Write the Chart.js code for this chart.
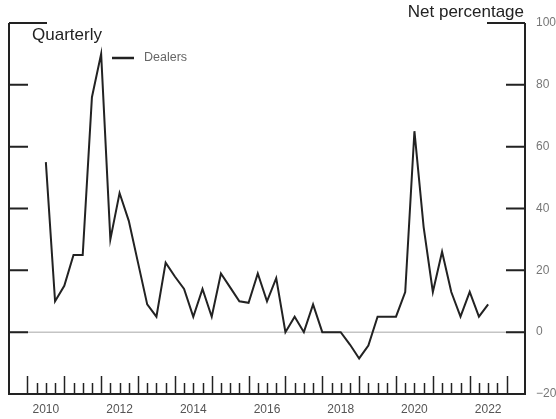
<!DOCTYPE html>
<html>
<head>
<meta charset="utf-8">
<script src="https://cdn.jsdelivr.net/npm/chart.js@4/dist/chart.umd.min.js"></script>
<style>
  body { margin: 0; background: #fff; }
</style>
</head>
<body>
<canvas id="dealers-chart" width="556" height="419"></canvas>
<script>
// survey quarters (plotted at end of quarter)
var quarters = [
  '2010Q2', '2010Q3', '2010Q4',
  '2011Q1', '2011Q2', '2011Q3', '2011Q4',
  '2012Q1', '2012Q2', '2012Q3', '2012Q4',
  '2013Q1', '2013Q2', '2013Q3', '2013Q4',
  '2014Q1', '2014Q2', '2014Q3', '2014Q4',
  '2015Q1', '2015Q2', '2015Q3', '2015Q4',
  '2016Q1', '2016Q2', '2016Q3', '2016Q4',
  '2017Q1', '2017Q2', '2017Q3', '2017Q4',
  '2018Q1', '2018Q2', '2018Q3', '2018Q4',
  '2019Q1', '2019Q2', '2019Q3', '2019Q4',
  '2020Q1', '2020Q2', '2020Q3', '2020Q4',
  '2021Q1', '2021Q2', '2021Q3', '2021Q4',
  '2022Q1', '2022Q2'
];
var dealers = [
  55, 10, 15,
  25, 25, 76, 90,
  30, 45, 36, 22.5,
  9, 5, 22.5, 18,
  14, 5, 14, 5,
  19, 14.5, 10, 9.5,
  19, 10, 17.5, 0,
  5, 0, 9, 0,
  0, 0, -4, -8.5,
  -4.3, 5, 5, 5,
  13, 65, 34, 13,
  26, 13, 5, 13,
  5, 9
];
var yearLabels = ['2010', '2012', '2014', '2016', '2018', '2020', '2022'];
var yTicks = [-20, 0, 20, 40, 60, 80, 100];

function quarterToX(q) {
  return parseInt(q.slice(0, 4)) + parseInt(q.slice(5)) * 0.25;
}

const frame = {
  id: 'frame',
  beforeDatasetsDraw(chart) {
    const c = chart.ctx, a = chart.chartArea, y = chart.scales.y;
    c.save();
    c.strokeStyle = '#c4c4c4';
    c.lineWidth = 1.5;
    c.beginPath();
    c.moveTo(a.left, y.getPixelForValue(0));
    c.lineTo(a.right, y.getPixelForValue(0));
    c.stroke();
    c.restore();
  },
  afterDatasetsDraw(chart) {
    const c = chart.ctx, a = chart.chartArea;
    const x = chart.scales.x, y = chart.scales.y;
    c.save();
    c.strokeStyle = '#222';
    c.lineWidth = 2;
    c.beginPath();
    c.moveTo(a.left, a.top);
    c.lineTo(a.left, a.bottom);
    c.lineTo(a.right, a.bottom);
    c.lineTo(a.right, a.top);
    c.stroke();

    // y ticks, pointing inward from both sides
    yTicks.forEach(function (v) {
      const py = y.getPixelForValue(v);
      const len = v === 100 ? 38 : 19;
      c.beginPath();
      c.moveTo(a.left, py); c.lineTo(a.left + len, py);
      c.moveTo(a.right, py); c.lineTo(a.right - len, py);
      c.stroke();
    });

    // quarterly ticks along the bottom, taller at year starts
    c.lineWidth = 1.5;
    for (let yr = 2010; yr <= 2023; yr++) {
      for (let q = 0; q < 4; q++) {
        if (yr === 2023 && q > 0) break;
        const px = Math.round(x.getPixelForValue(yr + q * 0.25)) + 0.5;
        c.beginPath();
        c.moveTo(px, a.bottom);
        c.lineTo(px, a.bottom - (q === 0 ? 18 : 11));
        c.stroke();
      }
    }

    // texts
    c.fillStyle = '#222';
    c.font = '17px "Liberation Sans", Arial, sans-serif';
    c.textBaseline = 'middle';
    c.textAlign = 'left';
    c.fillText('Quarterly', 32, 35);
    c.textAlign = 'right';
    c.fillText('Net percentage', 524, 12);

    // legend
    c.strokeStyle = '#222';
    c.lineWidth = 2.5;
    c.beginPath();
    c.moveTo(112, 58); c.lineTo(134, 58);
    c.stroke();
    c.fillStyle = '#666';
    c.font = '12.5px "Liberation Sans", Arial, sans-serif';
    c.textAlign = 'left';
    c.fillText('Dealers', 144, 58);
    c.restore();
  }
};

const ctx = document.getElementById('dealers-chart');
const dealersChart = new Chart(ctx, {
  type: 'line',
  data: {
    datasets: [{
      label: 'Dealers',
      data: quarters.map(function (q, i) { return { x: quarterToX(q), y: dealers[i] }; }),
      borderColor: '#222',
      borderWidth: 2,
      pointRadius: 0,
      tension: 0,
      fill: false
    }]
  },
  options: {
    responsive: false,
    animation: false,
    layout: { padding: { left: 9, top: 23, right: 0, bottom: 0 } },
    plugins: { legend: { display: false }, tooltip: { enabled: false } },
    scales: {
      x: {
        type: 'linear',
        min: 2009.5,
        max: 2023.5,
        afterBuildTicks: function (scale) {
          scale.ticks = yearLabels.map(function (l) { return { value: parseInt(l) + 0.5 }; });
        },
        afterFit: function (scale) { scale.height = 25; },
        grid: { display: false, drawTicks: false },
        border: { display: false },
        ticks: {
          autoSkip: false,
          maxRotation: 0,
          padding: 8,
          color: '#555',
          font: { family: '"Liberation Sans", Arial, sans-serif', size: 12 },
          callback: function (v) { return String(Math.floor(v)); }
        }
      },
      y: {
        position: 'right',
        min: -20,
        max: 100,
        afterBuildTicks: function (scale) {
          scale.ticks = yTicks.map(function (v) { return { value: v }; });
        },
        afterFit: function (scale) { scale.width = 31; },
        grid: { display: false, drawTicks: false },
        border: { display: false },
        ticks: {
          padding: 11,
          color: '#777',
          font: { family: '"Liberation Sans", Arial, sans-serif', size: 12 },
          callback: function (v) { return String(v).replace('-', '\u2212'); }
        }
      }
    }
  },
  plugins: [frame]
});
</script>
</body>
</html>
